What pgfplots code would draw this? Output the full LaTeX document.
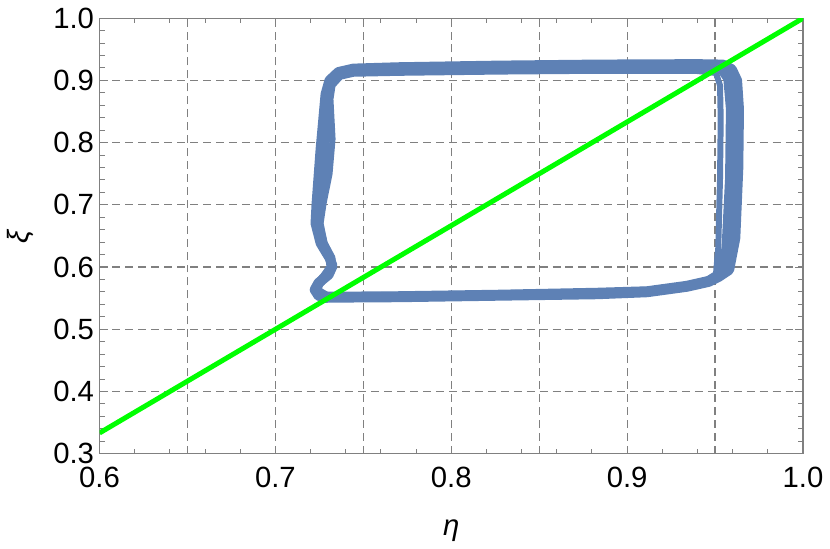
\documentclass[border=0pt]{standalone}
\usepackage{fontspec}
\setmainfont{Liberation Sans}
\usepackage{pgfplots}
\pgfplotsset{compat=1.18}
\definecolor{mblue}{HTML}{5E81B5}
\definecolor{mgreen}{rgb}{0,1,0}
\newcommand{\labfont}{\fontsize{14.7}{17}\selectfont}
\begin{document}
\begin{tikzpicture}
\begin{axis}[
  name=ax,
  scale only axis,
  width=353.3pt, height=218.7pt,
  xmin=0.6, xmax=1.0, ymin=0.3, ymax=1.0,
  xtick={0.6,0.7,0.8,0.9,1.0},
  ytick={0.3,0.4,0.5,0.6,0.7,0.8,0.9,1.0},
  minor x tick num=4, minor y tick num=4,
  extra x ticks={0.65,0.75,0.85,0.95},
  extra x tick labels={},
  extra x tick style={major tick length=0pt},
  xmajorgrids, ymajorgrids,
  major grid style={black!50, dash pattern=on 4pt off 2.5pt, line width=0.6pt},
  tick align=inside,
  major tick length=4pt, minor tick length=2.5pt,
  axis line style={black!50, line width=0.6pt},
  tick style={black!50, line width=0.5pt},
  tick label style={font=\labfont},
  xticklabel style={font=\labfont, yshift=-3.1pt},
  yticklabel style={font=\labfont, xshift=0.75pt},
  /pgf/number format/assume math mode=true,
  /pgf/number format/.cd, fixed, fixed zerofill, precision=1, /pgfplots/.cd,
  xlabel={\labfont\textit{η}}, ylabel={\labfont\textit{ξ}},
  xlabel style={at={(axis description cs:0.5,-0.1767)}, anchor=center},
  ylabel style={at={(axis description cs:-0.113,0.5)}, anchor=center},
]
% trajectory, three overlapping loops
\addplot[mblue, line width=5pt, line join=round, line cap=round] coordinates {
  (0.7274,0.5507) (0.7698,0.5515) (0.8264,0.5539) (0.8830,0.5563) (0.9113,0.5595)
  (0.9340,0.5683) (0.9464,0.5762) (0.9521,0.5842) (0.9580,0.5954) (0.9615,0.6464)
  (0.9632,0.7581) (0.9636,0.8537) (0.9625,0.9000) (0.9595,0.9180) (0.9545,0.9255)
  (0.9396,0.9262) (0.8830,0.9255) (0.8264,0.9238) (0.7698,0.9212) (0.7443,0.9190)
  (0.7358,0.9135) (0.7307,0.9000) (0.7285,0.8777) (0.7257,0.7900) (0.7234,0.7023)
  (0.7228,0.6703) (0.7257,0.6384) (0.7308,0.6145) (0.7325,0.6017) (0.7302,0.5874)
  (0.7245,0.5746) (0.7223,0.5635) (0.7245,0.5539) (0.7291,0.5499)
};
\addplot[mblue, line width=3pt, line join=round, line cap=round] coordinates {
  (0.7302,0.5539) (0.7698,0.5555) (0.8264,0.5579) (0.8830,0.5603) (0.9113,0.5635)
  (0.9340,0.5714) (0.9453,0.5794) (0.9505,0.5890) (0.9518,0.6305) (0.9528,0.7421)
  (0.9532,0.8378) (0.9528,0.8920) (0.9505,0.9120) (0.9396,0.9152) (0.8830,0.9155)
  (0.8264,0.9142) (0.7698,0.9122) (0.7443,0.9107) (0.7370,0.9060) (0.7325,0.8920)
  (0.7313,0.8697) (0.7325,0.8060) (0.7308,0.7502) (0.7274,0.7023) (0.7257,0.6703)
  (0.7280,0.6384) (0.7313,0.6177) (0.7330,0.6049) (0.7291,0.5890) (0.7257,0.5762)
  (0.7245,0.5635) (0.7302,0.5539)
};
\addplot[mblue, line width=5pt, line join=round, line cap=round] coordinates {
  (0.7279,0.5523) (0.7698,0.5531) (0.8264,0.5555) (0.8830,0.5587) (0.9113,0.5611)
  (0.9340,0.5699) (0.9464,0.5778) (0.9530,0.5874) (0.9565,0.6305) (0.9585,0.7421)
  (0.9590,0.8537) (0.9575,0.9030) (0.9535,0.9195) (0.9396,0.9208) (0.8830,0.9208)
  (0.8264,0.9192) (0.7698,0.9167) (0.7443,0.9152) (0.7358,0.9092) (0.7307,0.8935)
  (0.7291,0.8697) (0.7279,0.7900) (0.7251,0.7103) (0.7240,0.6703) (0.7268,0.6384)
  (0.7313,0.6145) (0.7319,0.6001) (0.7285,0.5858) (0.7240,0.5715) (0.7234,0.5603)
  (0.7279,0.5523)
};
% reference line
\addplot[mgreen, line width=2.5pt] coordinates {(0.6,0.3333) (1.0,1.0)};
\end{axis}
\path ([xshift=-50pt, yshift=-47.65pt]ax.south west) rectangle ([xshift=11.65pt, yshift=9.15pt]ax.north east);
\end{tikzpicture}
\end{document}
